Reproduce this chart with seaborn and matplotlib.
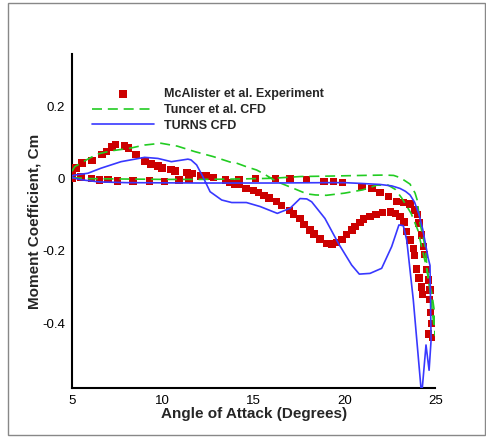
import numpy as np
import pandas as pd
import seaborn as sns
import matplotlib
matplotlib.use("Agg")
from matplotlib import pyplot as plt
from matplotlib.patches import Rectangle
from matplotlib.ticker import MultipleLocator, FuncFormatter

# McAlister et al. experiment (upstroke then downstroke)
exp_alpha = [5.0, 5.5, 6.06, 6.5, 6.98, 7.5, 8.36, 9.27, 10.1, 10.9, 11.45, 12.78, 13.45,
             14.2, 15.1, 16.2, 17.0, 17.9, 18.87, 19.4, 19.9, 20.95, 21.5, 21.95, 22.4,
             22.84, 23.24, 23.6, 23.85, 24.0, 24.1, 24.25, 24.35, 24.4, 24.52, 24.6, 24.7,
             24.68, 24.72, 24.8, 24.82,
             24.6, 24.3, 24.25, 24.1, 23.97, 23.83, 23.78, 23.6, 23.42, 23.27, 23.05, 22.8,
             22.54, 22.1, 21.73, 21.4, 21.04, 20.85, 20.58, 20.4, 20.12, 19.85, 19.57, 19.3,
             19.02, 18.65, 18.32, 18.1, 17.77, 17.54, 17.2, 16.96, 16.54, 16.26, 15.84,
             15.57, 15.25, 14.98, 14.57, 14.2, 13.97, 13.7, 12.4, 12.1, 11.6, 11.33, 10.67,
             10.45, 9.95, 9.73, 9.35, 9.02, 8.52, 8.1, 7.88, 7.38, 7.2, 6.91, 6.65, 6.1,
             5.55, 5.22, 5.0]
exp_cm = [0.0, 0.005, 0.001, -0.004, -0.002, -0.006, -0.006, -0.006, -0.008, -0.004, -0.002,
          0.004, -0.004, -0.002, 0.0, 0.0, 0.0, -0.003, -0.008, -0.008, -0.01, -0.022,
          -0.028, -0.039, -0.05, -0.064, -0.066, -0.07, -0.087, -0.1, -0.123, -0.156,
          -0.188, -0.21, -0.252, -0.28, -0.308, -0.335, -0.37, -0.40, -0.44,
          -0.43, -0.32, -0.30, -0.275, -0.25, -0.212, -0.193, -0.17, -0.146, -0.12,
          -0.105, -0.096, -0.092, -0.093, -0.1, -0.105, -0.112, -0.122, -0.133, -0.142,
          -0.154, -0.169, -0.176, -0.181, -0.179, -0.167, -0.153, -0.142, -0.126,
          -0.111, -0.098, -0.088, -0.075, -0.064, -0.053, -0.046, -0.039, -0.033,
          -0.028, -0.017, -0.015, -0.011, 0.007, 0.007, 0.015, 0.017, 0.021, 0.025,
          0.030, 0.035, 0.041, 0.049, 0.066, 0.085, 0.090, 0.094, 0.088, 0.075, 0.066,
          0.051, 0.043, 0.030, 0.014]

# Tuncer et al. CFD
tun_alpha = [5.0, 6.0, 8.0, 10.0, 12.0, 14.0, 16.0, 17.6, 19.0, 20.0, 21.0, 22.2, 22.7,
             23.05, 23.3, 23.6, 23.88, 24.0, 24.15, 24.43, 24.52, 24.6, 24.8, 24.92, 25.0,
             25.0, 24.9, 24.75, 24.6, 24.43, 24.03, 23.66, 23.15, 22.8, 22.4, 21.77, 21.0,
             20.0, 19.0, 18.4, 17.92, 17.2, 16.27, 15.5, 15.16, 14.6, 14.06, 13.7, 12.78,
             11.75, 10.8, 9.9, 8.99, 8.17, 7.16, 6.4, 5.8, 5.15, 5.0]
tun_cm = [0.003, 0.0, -0.001, -0.002, -0.002, -0.001, 0.001, 0.006, 0.007, 0.008, 0.009,
          0.01, 0.009, 0.003, -0.005, -0.015, -0.04, -0.06, -0.123, -0.188, -0.234, -0.28,
          -0.317, -0.36, -0.41, -0.435, -0.40, -0.33, -0.27, -0.229, -0.142, -0.096,
          -0.054, -0.03, -0.018, -0.018, -0.031, -0.04, -0.046, -0.045, -0.042, -0.027,
          -0.008, 0.015, 0.024, 0.033, 0.043, 0.046, 0.061, 0.075, 0.09, 0.098, 0.093,
          0.084, 0.077, 0.068, 0.052, 0.033, 0.02]

# TURNS CFD
turns_alpha = [5.0, 5.5, 6.5, 8.0, 12.0, 16.0, 19.0, 20.0, 20.85, 21.95, 22.6, 23.05, 23.35,
               23.6, 23.85, 24.1, 24.3, 24.45, 24.6, 24.7, 24.76, 24.65, 24.48, 24.24,
               23.78, 23.42, 23.23, 22.99, 22.59, 22.04, 21.4, 20.81, 20.39, 19.66, 18.92,
               18.19, 17.92, 17.55, 17.0, 16.3, 15.35, 14.6, 13.79, 13.24, 12.6, 12.2,
               11.86, 11.55, 11.38, 10.47, 9.73, 9.0, 7.7, 6.6, 5.88, 5.15, 5.0]
turns_cm = [0.003, -0.003, -0.009, -0.011, -0.012, -0.012, -0.011, -0.011, -0.013, -0.016,
            -0.02, -0.027, -0.035, -0.045, -0.065, -0.1, -0.14, -0.18, -0.22, -0.24,
            -0.446, -0.53, -0.46, -0.6, -0.335, -0.17, -0.13, -0.128, -0.188, -0.248,
            -0.262, -0.264, -0.239, -0.179, -0.11, -0.064, -0.056, -0.055, -0.082, -0.096,
            -0.077, -0.066, -0.066, -0.059, -0.036, 0.006, 0.038, 0.052, 0.054, 0.047,
            0.056, 0.059, 0.047, 0.029, 0.015, 0.010, 0.008]

exp_df = pd.DataFrame({"alpha": exp_alpha, "cm": exp_cm})
tun_df = pd.DataFrame({"alpha": tun_alpha, "cm": tun_cm})
turns_df = pd.DataFrame({"alpha": turns_alpha, "cm": turns_cm})

sns.set_style("white")
plt.rcParams["font.family"] = ["Liberation Sans", "DejaVu Sans"]
plt.rcParams["axes.unicode_minus"] = False

fig = plt.figure(figsize=(4.86, 4.38), dpi=100)
ax = fig.add_axes([0.148, 0.115, 0.748, 0.761])

sns.scatterplot(data=exp_df, x="alpha", y="cm", marker="s", s=28, color="#cc0000",
                edgecolor="none", label="McAlister et al. Experiment", ax=ax, zorder=3)
sns.lineplot(data=tun_df, x="alpha", y="cm", sort=False, estimator=None, color="#22cc22",
             lw=1.2, dashes=False, label="Tuncer et al. CFD", ax=ax, zorder=4)
ax.lines[-1].set_linestyle((0, (6, 3.5)))
sns.lineplot(data=turns_df, x="alpha", y="cm", sort=False, estimator=None, color="#3838ff",
             lw=1.2, label="TURNS CFD", ax=ax, zorder=5)

ax.set_xlim(5, 25)
ax.set_ylim(-0.578, 0.344)
ax.xaxis.set_major_locator(MultipleLocator(5))
ax.xaxis.set_minor_locator(MultipleLocator(1))
ax.yaxis.set_major_locator(MultipleLocator(0.2))
ax.yaxis.set_minor_locator(MultipleLocator(0.05))
ax.yaxis.set_major_formatter(FuncFormatter(lambda v, p: f"{v:g}" if abs(v) > 1e-9 else "0"))
ax.tick_params(which="both", direction="in", colors="black", labelsize=9.5)
ax.tick_params(which="major", length=7, width=1, pad=5)
ax.tick_params(which="minor", length=4, width=1)
for side in ["top", "right"]:
    ax.spines[side].set_visible(False)
for side in ["left", "bottom"]:
    ax.spines[side].set_color("black")
    ax.spines[side].set_linewidth(1.5)

ax.set_xlabel("Angle of Attack (Degrees)", fontsize=11, fontweight="bold", labelpad=0)
ax.set_ylabel("Moment Coefficient, Cm", fontsize=11, fontweight="bold", labelpad=0.5)

leg = ax.legend(loc="upper left", bbox_to_anchor=(0.055, 0.898), frameon=False,
                fontsize=9, handlelength=5.0, handletextpad=0.8, labelspacing=0.3,
                borderaxespad=0, borderpad=0)
for t in leg.get_texts():
    t.set_fontweight("bold")

fig.patches.append(Rectangle((8 / 486, 3 / 438), 477 / 486, 432 / 438,
                             transform=fig.transFigure, fill=False,
                             edgecolor="#888888", lw=1))

fig.savefig("out.png", dpi=100)
